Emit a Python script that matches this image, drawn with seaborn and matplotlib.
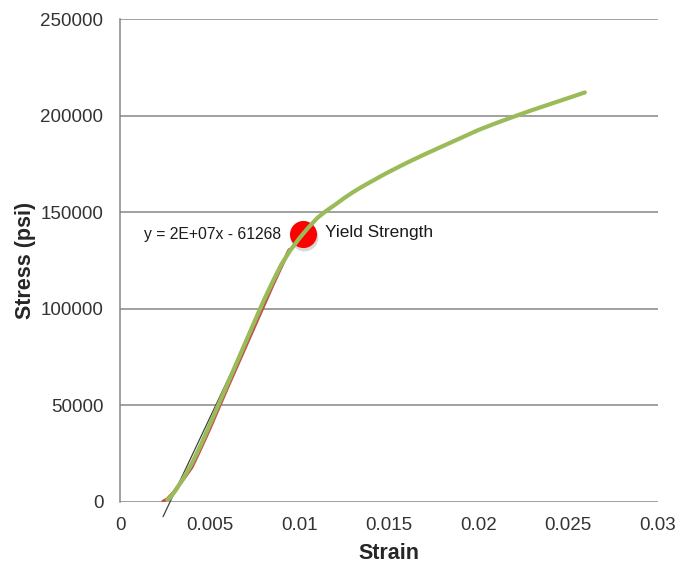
# Stress-strain curve with yield point

import numpy as np
import pandas as pd
import seaborn as sns
import matplotlib
matplotlib.use("Agg")
import matplotlib.pyplot as plt

# measured curve (green)
strain = [0.00264, 0.00280, 0.00310, 0.00350, 0.00400, 0.00450, 0.00500, 0.00550,
          0.00600, 0.00650, 0.00700, 0.00750, 0.00800, 0.00850, 0.00900, 0.00950,
          0.01000, 0.01050, 0.01100, 0.01150, 0.01200, 0.01250, 0.01300, 0.01350,
          0.01400, 0.01450, 0.01500, 0.01600, 0.01700, 0.01800, 0.01900, 0.02000,
          0.02100, 0.02200, 0.02300, 0.02400, 0.02500, 0.02592]
stress = [1000, 2300, 6000, 11800, 19800, 29400, 39900, 50600,
          61300, 72000, 82700, 93400, 104000, 113800, 123000, 130300,
          136500, 142000, 147000, 150700, 153900, 157300, 160400, 163200,
          165800, 168400, 170900, 175600, 180000, 184200, 188400, 192600,
          196200, 199600, 202900, 206000, 209100, 212000]

# linear portion (red)
lin_strain = [0.00240, 0.00265, 0.00300, 0.00350, 0.00400, 0.00450, 0.00500, 0.00550,
              0.00600, 0.00650, 0.00700, 0.00750, 0.00800, 0.00850, 0.00900, 0.00944]
lin_stress = [200, 1500, 5000, 11500, 18000, 27800, 38000, 48800,
              59500, 70000, 80500, 91000, 101500, 112000, 122000, 130500]

# linear trendline ends
trend_strain = [0.0024, 0.0093]
trend_stress = [-7600, 127800]
trend_label = "y = 2E+07x - 61268"

# yield point
yield_strain = 0.01022
yield_stress = 138700

sns.set_style("white")
plt.rcParams['font.family'] = ['Liberation Sans', 'DejaVu Sans']

fig = plt.figure(figsize=(6.8, 5.67), dpi=100)
ax = fig.add_axes([120 / 680, 65 / 567, 538 / 680, 483 / 567])

grid_col = "#868686"
for v in [0, 50000, 100000, 150000, 200000, 250000]:
    ax.axhline(v, color=grid_col, lw=1.1, zorder=1)

ax.plot(trend_strain, trend_stress, color="#404040", lw=0.9, zorder=2, clip_on=False)

lin = pd.DataFrame({"strain": lin_strain, "stress": lin_stress})
sns.lineplot(data=lin, x="strain", y="stress", sort=False, color="#C0504D",
             lw=2.6, ax=ax, zorder=3, solid_joinstyle="round", solid_capstyle="round")

# yield dot with a soft shadow
ax.scatter([yield_strain + 0.00006], [yield_stress - 1500], s=400, color="#b0b0b0",
           alpha=0.5, lw=0, zorder=4)
ax.scatter([yield_strain], [yield_stress], s=380, color="#FF0000", lw=0, zorder=5)

curve = pd.DataFrame({"strain": strain, "stress": stress})
sns.lineplot(data=curve, x="strain", y="stress", sort=False, color="#9BBB59",
             lw=3, ax=ax, zorder=6, solid_joinstyle="round", solid_capstyle="round")

ax.text(0.00134, yield_stress, trend_label, fontsize=11.3, color="#1a1a1a",
        va="center", ha="left", zorder=7)
ax.text(0.01145, yield_stress + 600, "Yield Strength", fontsize=12.4, color="#1a1a1a",
        va="center", ha="left", zorder=7)

ax.set_xlim(0, 0.03)
ax.set_ylim(0, 250000)
xt = [0, 0.005, 0.01, 0.015, 0.02, 0.025, 0.03]
ax.set_xticks(xt)
ax.set_xticklabels(["0", "0.005", "0.01", "0.015", "0.02", "0.025", "0.03"])
yt = [0, 50000, 100000, 150000, 200000, 250000]
ax.set_yticks(yt)
ax.set_yticklabels([str(v) for v in yt])
ax.tick_params(axis="both", length=0, labelsize=13.5, labelcolor="#333333")
ax.tick_params(axis="x", pad=11)
ax.tick_params(axis="y", pad=12)

for s in ["top", "right", "bottom"]:
    ax.spines[s].set_visible(False)
ax.spines["left"].set_color(grid_col)
ax.spines["left"].set_linewidth(1.1)

ax.set_xlabel("Strain", fontsize=15.5, fontweight="bold", labelpad=6)
ax.set_ylabel("Stress (psi)", fontsize=15.5, fontweight="bold", labelpad=3)

fig.savefig("out.png", dpi=100)
